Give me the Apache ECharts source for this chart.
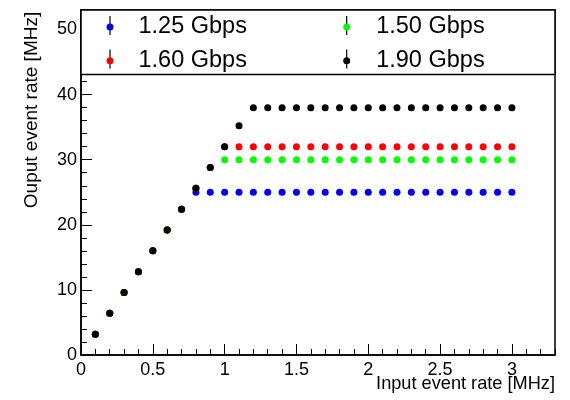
<!DOCTYPE html>
<html><head><meta charset="utf-8">
<script src="https://cdn.jsdelivr.net/npm/echarts@6/dist/echarts.min.js"></script>
<style>html,body{margin:0;padding:0;background:#fff}#c{width:570px;height:400px}</style>
</head><body><div id="c"></div>
<script>
// Input event rate [MHz]
const inputRate = [0.1,0.2,0.3,0.4,0.5,0.6,0.7,0.8,0.9,1.0,1.1,1.2,1.3,1.4,1.5,1.6,1.7,1.8,1.9,2.0,2.1,2.2,2.3,2.4,2.5,2.6,2.7,2.8,2.9,3.0];
// Output event rate [MHz] per link speed
const out125 = [3.2,6.4,9.6,12.8,16,19.2,22.4,25,25,25,25,25,25,25,25,25,25,25,25,25,25,25,25,25,25,25,25,25,25,25];
const out150 = [3.2,6.4,9.6,12.8,16,19.2,22.4,25.6,28.8,30,30,30,30,30,30,30,30,30,30,30,30,30,30,30,30,30,30,30,30,30];
const out160 = [3.2,6.4,9.6,12.8,16,19.2,22.4,25.6,28.8,32,32,32,32,32,32,32,32,32,32,32,32,32,32,32,32,32,32,32,32,32];
const out190 = [3.2,6.4,9.6,12.8,16,19.2,22.4,25.6,28.8,32,35.2,38,38,38,38,38,38,38,38,38,38,38,38,38,38,38,38,38,38,38];
const seriesNames = ['1.25 Gbps','1.50 Gbps','1.60 Gbps','1.90 Gbps'];
const seriesColors = ['#0000ff','#00ff00','#ff0000','#000000'];
const seriesValues = [out125,out150,out160,out190];
const xTitle = 'Input event rate [MHz]';
const yTitle = 'Ouput event rate [MHz]';

const FONT = 'Liberation Sans, Arial, sans-serif';
const chart = echarts.init(document.getElementById('c'), null, {renderer:'canvas'});

const series = seriesNames.map((n,i)=>({
  name:n, type:'scatter', xAxisIndex:0, yAxisIndex:0,
  symbol:'circle', symbolSize:7,
  itemStyle:{color:seriesColors[i], opacity:1},
  emphasis:{disabled:true},
  data: inputRate.map((x,j)=>[x, seriesValues[i][j]])
}));

const legendText = (pad)=>({color:'#000', fontFamily:FONT, fontSize:23.5, lineHeight:23, padding:[0,0,0,pad]});

chart.setOption({
  animation:false,
  backgroundColor:'#fff',
  grid:{left:81, right:15, top:10, bottom:45, show:true, borderColor:'#000', borderWidth:1.5, backgroundColor:'transparent'},
  xAxis:[
    {type:'value', min:0, max:3.3, interval:0.5, position:'bottom',
     axisLine:{show:true, onZero:false, lineStyle:{color:'#000', width:1.5}},
     axisTick:{show:true, inside:true, length:11, lineStyle:{color:'#000', width:1}},
     axisLabel:{color:'#000', fontFamily:FONT, fontSize:18, margin:6, showMaxLabel:false},
     splitLine:{show:false}},
    {type:'value', min:0, max:3.3, interval:0.1, position:'bottom',
     axisLine:{show:false}, axisLabel:{show:false}, splitLine:{show:false},
     axisTick:{show:true, inside:true, length:6, lineStyle:{color:'#000', width:1}}}
  ],
  yAxis:[
    {type:'value', min:0, max:53, interval:10, position:'left',
     axisLine:{show:true, onZero:false, lineStyle:{color:'#000', width:1.5}},
     axisTick:{show:true, inside:true, length:11, lineStyle:{color:'#000', width:1}},
     axisLabel:{color:'#000', fontFamily:FONT, fontSize:18, margin:4, showMaxLabel:false},
     splitLine:{show:false}},
    {type:'value', min:0, max:53, interval:2, position:'left',
     axisLine:{show:false}, axisLabel:{show:false}, splitLine:{show:false},
     axisTick:{show:true, inside:true, length:6, lineStyle:{color:'#000', width:1}}}
  ],
  legend:[
    {data:[seriesNames[0], seriesNames[2]], orient:'vertical', left:106.5, top:15, padding:0,
     itemWidth:7, itemHeight:7, itemGap:9.7, icon:'circle', selectedMode:false, z:20,
     textStyle:legendText(20)},
    {data:[seriesNames[1], seriesNames[3]], orient:'vertical', left:343.2, top:15, padding:0,
     itemWidth:7, itemHeight:7, itemGap:9.7, icon:'circle', selectedMode:false, z:20,
     textStyle:legendText(21)}
  ],
  graphic:[
    {type:'rect', z:10, shape:{x:81, y:10, width:474, height:64.5}, style:{fill:'#fff', stroke:'#000', lineWidth:1.5}, silent:true},
    {type:'line', z:11, shape:{x1:110, y1:16, x2:110, y2:35}, style:{stroke:'#000', lineWidth:1.2}, silent:true},
    {type:'line', z:11, shape:{x1:110, y1:49.5, x2:110, y2:68.5}, style:{stroke:'#000', lineWidth:1.2}, silent:true},
    {type:'line', z:11, shape:{x1:346.7, y1:16, x2:346.7, y2:35}, style:{stroke:'#000', lineWidth:1.2}, silent:true},
    {type:'line', z:11, shape:{x1:346.7, y1:49.5, x2:346.7, y2:68.5}, style:{stroke:'#000', lineWidth:1.2}, silent:true},
    {type:'text', z:5, x:32, y:110, rotation:Math.PI/2, silent:true,
     style:{text:yTitle, fill:'#000', font:'19px '+FONT, textAlign:'center', textVerticalAlign:'middle'}},
    {type:'text', z:5, x:555, y:384, silent:true,
     style:{text:xTitle, fill:'#000', font:'18.2px '+FONT, textAlign:'right', textVerticalAlign:'middle'}}
  ],
  series: series
});
</script>
</body></html>
